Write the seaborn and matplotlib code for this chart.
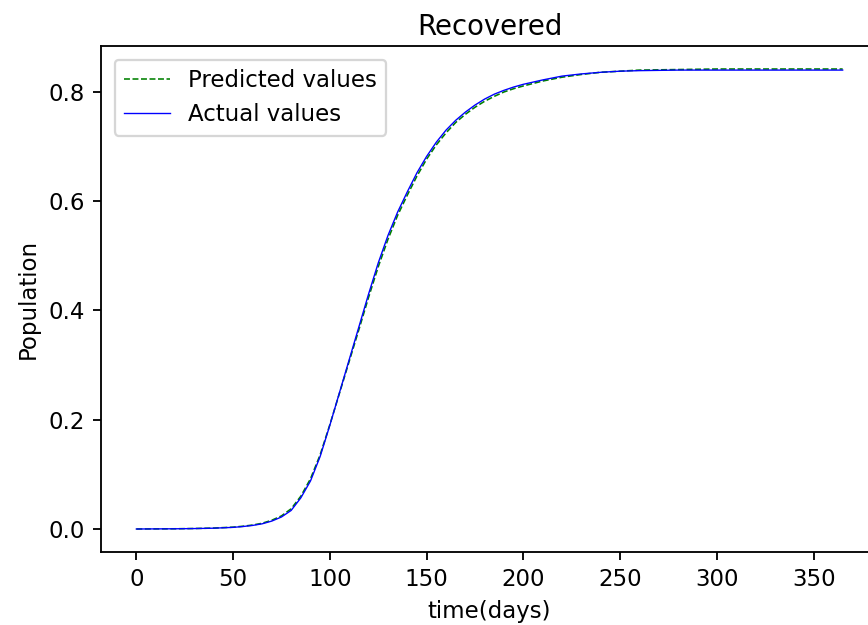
import matplotlib
matplotlib.use("Agg")
import matplotlib.pyplot as plt
import seaborn as sns
import pandas as pd

# Recovered fraction of the population over one year
days = [0, 10, 20, 30, 40, 50, 55, 60, 65, 70, 75, 80, 85, 90, 95, 100, 105,
        110, 115, 120, 125, 130, 135, 140, 145, 150, 155, 160, 165, 170, 175,
        180, 185, 190, 195, 200, 210, 220, 230, 240, 250, 260, 280, 300, 320,
        340, 365]

actual = [0.0, 0.0002, 0.0004, 0.0008, 0.0015, 0.003, 0.0045, 0.0065, 0.0095,
          0.0145, 0.022, 0.034, 0.057, 0.088, 0.133, 0.19, 0.25, 0.31, 0.37,
          0.43, 0.487, 0.537, 0.58, 0.617, 0.652, 0.682, 0.708, 0.73, 0.748,
          0.763, 0.776, 0.787, 0.796, 0.803, 0.809, 0.814, 0.822, 0.829,
          0.833, 0.836, 0.838, 0.839, 0.840, 0.840, 0.840, 0.840, 0.840]

predicted = [0.0, 0.0002, 0.0004, 0.0009, 0.0017, 0.0034, 0.005, 0.0072, 0.0105,
             0.016, 0.024, 0.037, 0.06, 0.092, 0.136, 0.191, 0.249, 0.307,
             0.365, 0.424, 0.48, 0.53, 0.574, 0.611, 0.646, 0.677, 0.703,
             0.725, 0.744, 0.759, 0.772, 0.783, 0.792, 0.8, 0.806, 0.811,
             0.82, 0.827, 0.832, 0.836, 0.838, 0.840, 0.841, 0.842, 0.842,
             0.842, 0.842]

df = pd.DataFrame({"time": days, "actual": actual, "predicted": predicted})

dpi = 165
fig = plt.figure(figsize=(868 / dpi, 625 / dpi), dpi=dpi)
ax = fig.add_axes([0.1164, 0.1168, 0.8951, 0.8096])

sns.lineplot(data=df, x="time", y="predicted", ax=ax, color="g",
             linestyle="--", linewidth=0.7, label="Predicted values")
sns.lineplot(data=df, x="time", y="actual", ax=ax, color="b",
             linewidth=0.6, label="Actual values")

ax.set_title("Recovered", pad=4.8)
ax.set_xlabel("time(days)")
ax.set_ylabel("Population")
ax.legend(loc="upper left", borderaxespad=0.6)

fig.savefig("out.png", dpi=dpi)
